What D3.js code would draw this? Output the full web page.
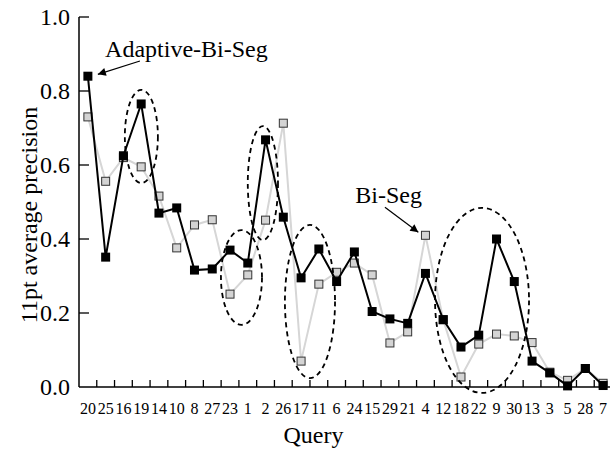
<!DOCTYPE html>
<html>
<head>
<meta charset="utf-8">
<script src="https://cdn.jsdelivr.net/npm/d3@7"></script>
<style>
  html, body { margin: 0; padding: 0; background: #fff; }
  svg { display: block; }
  svg text { font-family: "Liberation Serif", Tinos, "Times New Roman", Times, "DejaVu Serif", serif; fill: #000; }
</style>
</head>
<body>
<svg id="chart" width="610" height="450"></svg>
<script>
// ---- data ----
const categories = ["20","25","16","19","14","10","8","27","23","1","2","26","17","11","6","24","15","29","21","4","12","18","22","9","30","13","3","5","28","7"];
const adaptiveBiSeg = [0.84,0.351,0.625,0.765,0.47,0.484,0.316,0.319,0.37,0.335,0.668,0.459,0.295,0.373,0.285,0.365,0.204,0.184,0.172,0.307,0.182,0.108,0.14,0.40,0.285,0.07,0.038,0.003,0.05,0.004];
const biSeg = [0.73,0.556,0.62,0.595,0.516,0.376,0.438,0.452,0.251,0.303,0.451,0.713,0.07,0.278,0.31,0.335,0.303,0.119,0.149,0.41,0.182,0.027,0.116,0.143,0.138,0.12,0.04,0.018,0.05,0.01];
const yTicks = [0, 0.2, 0.4, 0.6, 0.8, 1.0];
// dashed ellipses: category-index span and value span
const ellipses = [
  {i0: 2.08, i1: 3.94, v0: 0.551, v1: 0.803},
  {i0: 9.0,  i1: 10.7, v0: 0.397, v1: 0.705},
  {i0: 7.49, i1: 9.80, v0: 0.168, v1: 0.424},
  {i0: 11.09, i1: 13.91, v0: 0.024, v1: 0.438},
  {i0: 19.54, i1: 24.83, v0: -0.016, v1: 0.484}
];
// annotations: label, arrow tail (index,value), arrow target (index,value)
const annotations = [
  {label: "Adaptive-Bi-Seg", ti: 2.93, tv: 0.881, hi: 0.56, hv: 0.845, li: 0.97, lv: 0.891},
  {label: "Bi-Seg", ti: 16.72, tv: 0.486, hi: 18.6, hv: 0.418, li: 15.05, lv: 0.498}
];

// ---- layout ----
const svg = d3.select("#chart");
const mLeft = 79, mRight = 612, mTop = 17, mBottom = 387;
const FONT = '"Liberation Serif", Tinos, "Times New Roman", Times, "DejaVu Serif", serif';

const x = d3.scaleBand().domain(categories).range([mLeft, mRight]).paddingInner(0).paddingOuter(0);
const bw = x.bandwidth();
const xc = c => x(c) + bw / 2;
const xi = i => mLeft + (i + 0.5) * bw;
const y = d3.scaleLinear().domain([0, 1]).range([mBottom, mTop]);

// axes
const xAxis = d3.axisBottom(x).tickSize(0).tickPadding(16);
const gx = svg.append("g").attr("transform", `translate(0,${mBottom})`).call(xAxis)
  .attr("font-family", FONT);
gx.select(".domain").remove();
gx.selectAll("text").style("font-size", "16px");

// x ticks at band boundaries (inward)
const bounds = categories.slice(1).map(c => x(c));
svg.append("g").selectAll("line").data(bounds).join("line")
  .attr("x1", d => d).attr("x2", d => d)
  .attr("y1", mBottom).attr("y2", mBottom - 7)
  .attr("stroke", "#000").attr("stroke-width", 1.3);

const yAxis = d3.axisLeft(y).tickValues(yTicks).tickFormat(d3.format(".1f")).tickSize(0).tickPadding(9);
const gy = svg.append("g").attr("transform", `translate(${mLeft},0)`).call(yAxis)
  .attr("font-family", FONT);
gy.select(".domain").remove();
gy.selectAll("text").style("font-size", "24px");

svg.append("g").selectAll("line").data(yTicks.filter(d => d > 0)).join("line")
  .attr("x1", mLeft).attr("x2", mLeft + 10)
  .attr("y1", d => y(d)).attr("y2", d => y(d))
  .attr("stroke", "#000").attr("stroke-width", 1.3);

// axis lines
svg.append("line").attr("x1", mLeft).attr("x2", mLeft).attr("y1", mTop).attr("y2", mBottom)
  .attr("stroke", "#000").attr("stroke-width", 1.5);
svg.append("line").attr("x1", mLeft).attr("x2", mRight).attr("y1", mBottom).attr("y2", mBottom)
  .attr("stroke", "#000").attr("stroke-width", 1.5);

// axis titles
svg.append("text").attr("x", (mLeft + mRight) / 2 - 32).attr("y", 443)
  .attr("text-anchor", "middle").style("font-size", "24px").text("Query");
svg.append("text").attr("transform", `translate(37,${(mTop + mBottom) / 2 + 13}) rotate(-90)`)
  .attr("text-anchor", "middle").style("font-size", "24px").text("11pt average precision");

// lines
const line = d3.line().x((d, i) => xc(categories[i])).y(d => y(d));
svg.append("path").datum(biSeg).attr("d", line)
  .attr("fill", "none").attr("stroke", "#d6d6d6").attr("stroke-width", 2);
svg.append("g").selectAll("rect").data(biSeg).join("rect")
  .attr("x", (d, i) => xc(categories[i]) - 4).attr("y", d => y(d) - 4)
  .attr("width", 8).attr("height", 8)
  .attr("fill", "#d4d4d4").attr("stroke", "#333").attr("stroke-width", 1);

svg.append("path").datum(adaptiveBiSeg).attr("d", line)
  .attr("fill", "none").attr("stroke", "#000").attr("stroke-width", 2);
svg.append("g").selectAll("rect").data(adaptiveBiSeg).join("rect")
  .attr("x", (d, i) => xc(categories[i]) - 4.5).attr("y", d => y(d) - 4.5)
  .attr("width", 9).attr("height", 9).attr("fill", "#000");

// ellipses
svg.append("g").selectAll("ellipse").data(ellipses).join("ellipse")
  .attr("cx", d => (xi(d.i0) + xi(d.i1)) / 2)
  .attr("cy", d => (y(d.v0) + y(d.v1)) / 2)
  .attr("rx", d => (xi(d.i1) - xi(d.i0)) / 2)
  .attr("ry", d => (y(d.v0) - y(d.v1)) / 2)
  .attr("fill", "none").attr("stroke", "#000").attr("stroke-width", 1.8)
  .attr("stroke-dasharray", "5,4");

// arrows
svg.append("defs").append("marker").attr("id", "ah")
  .attr("viewBox", "0 0 10 10").attr("refX", 10).attr("refY", 5)
  .attr("markerWidth", 10).attr("markerHeight", 8).attr("markerUnits", "userSpaceOnUse")
  .attr("orient", "auto")
  .append("path").attr("d", "M0,0 L10,5 L0,10 Z").attr("fill", "#000");

const ag = svg.append("g");
ag.selectAll("line").data(annotations).join("line")
  .attr("x1", d => xi(d.ti)).attr("y1", d => y(d.tv))
  .attr("x2", d => xi(d.hi)).attr("y2", d => y(d.hv))
  .attr("stroke", "#000").attr("stroke-width", 1.2).attr("marker-end", "url(#ah)");
ag.selectAll("text").data(annotations).join("text")
  .attr("x", d => xi(d.li)).attr("y", d => y(d.lv))
  .style("font-size", "24px").text(d => d.label);
</script>
</body>
</html>
